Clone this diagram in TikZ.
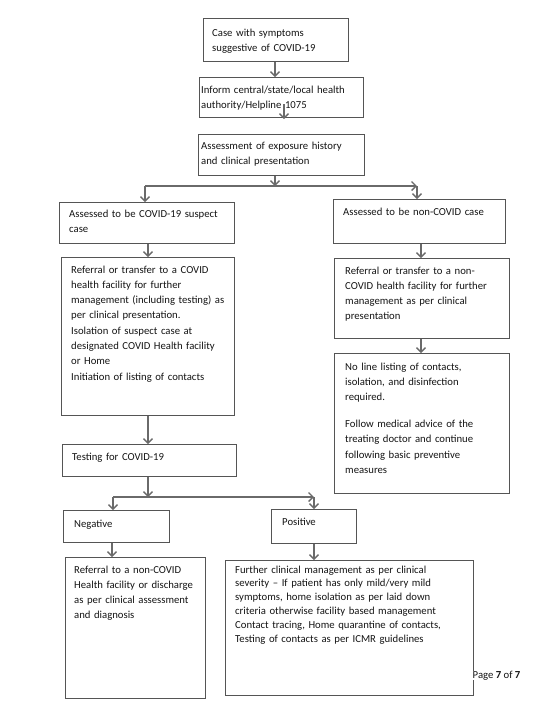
\documentclass[tikz,border=0pt]{standalone}
\usepackage{fontspec}
\setmainfont{Carlito}
\usetikzlibrary{arrows.meta}
\definecolor{bordc}{HTML}{555555}
\definecolor{arrc}{HTML}{6A6A6A}
\definecolor{txtc}{HTML}{151515}
\begin{document}
\begin{tikzpicture}[x=1pt,y=-1pt,
  box/.style={draw=bordc,line width=1.4pt,anchor=north west,inner sep=0pt,fill=none},
  txt/.style={anchor=base west,inner sep=0pt,align=left,text=txtc,text width=250pt,font=\fontsize{10.7}{15.3}\selectfont},
  txtb/.style={txt,font=\fontsize{10.7}{13.8}\selectfont},
  arr/.style={draw=arrc,line width=1.3pt,-{Straight Barb[length=4.5pt,width=9pt,line width=1.3pt]}},
  ln/.style={draw=arrc,line width=1.3pt}]
\fill[white] (0,0) rectangle (560,705);
\useasboundingbox (0,0) rectangle (560,705);
% boxes
\node[box,minimum width=145pt,minimum height=43pt] (b1) at (203,18) {};
\node[box,minimum width=164pt,minimum height=40pt] (b2) at (199,77) {};
\node[box,minimum width=166pt,minimum height=41pt] (b3) at (198,134) {};
\node[box,minimum width=175pt,minimum height=41pt] (b4) at (59,202) {};
\node[box,minimum width=173pt,minimum height=158pt] (b5) at (61,257) {};
\node[box,minimum width=172pt,minimum height=44pt] (b6) at (333,199) {};
\node[box,minimum width=175pt,minimum height=80pt] (b7) at (334,258) {};
\node[box,minimum width=175pt,minimum height=140pt] (b8) at (334,353) {};
\node[box,minimum width=174pt,minimum height=32pt] (b9) at (62,444) {};
\node[box,minimum width=106pt,minimum height=32pt] (b10) at (63,510) {};
\node[box,minimum width=85pt,minimum height=34pt] (b11) at (271,509) {};
\node[box,minimum width=140pt,minimum height=141pt] (b12) at (65,557) {};
\node[box,minimum width=248pt,minimum height=135pt] (b13) at (225,560) {};
% texts
\node[txt] (t1) at (212,36) {Case with symptoms\\suggestive of COVID-19};
\node[txt] (t2) at (201,93) {Inform central/state/local health\\authority/Helpline 1075};
\node[txt] (t3) at (201,149) {Assessment of exposure history\\and clinical presentation};
\node[txt] (t4) at (69,217) {Assessed to be COVID-19 suspect\\case};
\node[txt] (t5) at (71,273) {Referral or transfer to a COVID\\health facility for further\\management (including testing) as\\per clinical presentation.\\Isolation of suspect case at\\designated COVID Health facility\\or Home\\Initiation of listing of contacts};
\node[txt] (t6) at (343,215) {Assessed to be non-COVID case};
\node[txt] (t7) at (345,274) {Referral or transfer to a non-\\COVID health facility for further\\management as per clinical\\presentation};
\node[txt] (t8) at (345,370) {No line listing of contacts,\\isolation, and disinfection\\required.\\[11.7pt]Follow medical advice of the\\treating doctor and continue\\following basic preventive\\measures};
\node[txt] (t9) at (72,460) {Testing for COVID-19};
\node[txt] (t10) at (74,527) {Negative};
\node[txt] (t11) at (282,525) {Positive};
\node[txt] (t12) at (74,573) {Referral to a non-COVID\\Health facility or discharge\\as per clinical assessment\\and diagnosis};
\node[txtb] (t13) at (235,573) {Further clinical management as per clinical\\severity -- If patient has only mild/very mild\\symptoms, home isolation as per laid down\\criteria otherwise facility based management\\Contact tracing, Home quarantine of contacts,\\Testing of contacts as per ICMR guidelines};
\node[txt,fill=white,inner xsep=0.5pt,text width=] (pg) at (472,678) {Page \textbf{7} of \textbf{7}};
% helper coordinates
\coordinate (cA) at (275,0);
\coordinate (cB) at (284,104);
\coordinate (cB2) at (284,119);
\coordinate (jM) at (275,186);
\coordinate (jL) at (145,186);
\coordinate (jR) at (417,186);
\coordinate (cC) at (148,0);
\coordinate (cD) at (421,0);
\coordinate (jM2) at (148,497);
\coordinate (jL2) at (113,497);
\coordinate (jR2) at (314,497);
\coordinate (cE) at (112,0);
% connectors
\draw[arr] (b1.south -| cA) -- (b2.north -| cA);
\draw[arr] (cB) -- (cB2);
\draw[arr] (b3.south -| cA) -- (jM);
\draw[arr] (jL) -- (jR);
\draw[arr] (jL) -- (b4.north -| jL);
\draw[arr] (jR) -- (b6.north -| jR);
\draw[arr] (b4.south -| cC) -- (b5.north -| cC);
\draw[arr] (b6.south -| cD) -- (b7.north -| cD);
\draw[arr] (b7.south -| cD) -- (b8.north -| cD);
\draw[arr] (b5.south -| cC) -- (b9.north -| cC);
\draw[arr] (b9.south -| cC) -- (jM2);
\draw[arr] (jL2) -- (jR2);
\draw[arr] (jL2) -- (b10.north -| jL2);
\draw[arr] (jR2) -- (b11.north -| jR2);
\draw[arr] (b10.south -| cE) -- (b12.north -| cE);
\draw[arr] (b11.south -| jR2) -- (b13.north -| jR2);
\end{tikzpicture}
\end{document}
